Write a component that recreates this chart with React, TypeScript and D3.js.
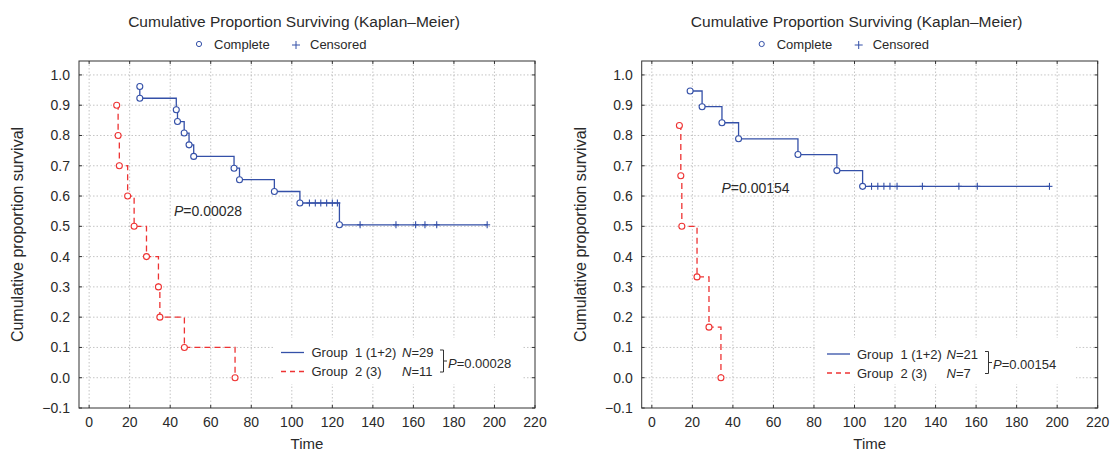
import * as d3 from "d3";

// tick values shared by both panels
const xTicks = [0, 20, 40, 60, 80, 100, 120, 140, 160, 180, 200, 220];
const yTicks = [-0.1, 0, 0.1, 0.2, 0.3, 0.4, 0.5, 0.6, 0.7, 0.8, 0.9, 1.0];

// left panel, group 1 (1+2)
const left1Time = [25, 25, 43, 43.6, 46.9, 49.3, 51.6, 71.5, 74.2, 91.4, 104, 123.5];
const left1Surv = [0.962, 0.923, 0.885, 0.846, 0.808, 0.769, 0.731, 0.692, 0.654, 0.615, 0.577, 0.505];
const left1Cens = [108.7, 111.6, 114.3, 117.2, 120, 122.5, 133.7, 151.4, 161.1, 165.7, 171.5, 196.4];
// left panel, group 2 (3)
const left2Time = [13.6, 14.3, 14.9, 19, 22.2, 28.3, 34.2, 34.9, 47, 72];
const left2Surv = [0.9, 0.8, 0.7, 0.6, 0.5, 0.4, 0.3, 0.2, 0.1, 0.0];

// right panel, group 1 (1+2)
const right1Time = [18.9, 24.8, 34.6, 42.8, 72.1, 91.3, 104];
const right1Surv = [0.947, 0.895, 0.842, 0.789, 0.737, 0.684, 0.632];
const right1Cens = [108.4, 111.5, 114.5, 117.5, 121, 133.5, 151.5, 160.6, 196.2];
// right panel, group 2 (3)
const right2Time = [13.6, 14.3, 14.8, 22.3, 28.2, 34.1];
const right2Surv = [0.833, 0.667, 0.5, 0.333, 0.167, 0.0];

const BLUE = "#3450a8";
const RED = "#ee3333";
const TXT = "#2a2a2a";
const FONT = "'Liberation Sans', Arial, Helvetica, sans-serif";

type Group = { time: number[]; surv: number[]; cens: number[] };

function survAt(g: Group, t: number) {
  let s = g.surv[0];
  g.time.forEach((tt, i) => {
    if (tt <= t) s = g.surv[i];
  });
  return s;
}

function stepPoints(g: Group): [number, number][] {
  const pts: [number, number][] = [[g.time[0], g.surv[0]]];
  for (let i = 1; i < g.time.length; i++) {
    pts.push([g.time[i], g.surv[i - 1]]);
    pts.push([g.time[i], g.surv[i]]);
  }
  const lastC = g.cens.length ? d3.max(g.cens)! : 0;
  if (lastC > g.time[g.time.length - 1]) pts.push([lastC, g.surv[g.surv.length - 1]]);
  return pts;
}

const Panel = ({
  dx,
  g1,
  g2,
  pText,
  pPos,
  n1,
  n2,
  leg,
}: {
  dx: number;
  g1: Group;
  g2: Group;
  pText: string;
  pPos: [number, number];
  n1: string;
  n2: string;
  leg: { x: number; y: number; w: number; h: number; lx: number; tx: number; nx: number; bx: number; y1: number; y2: number };
}) => {
  const left = 79 + dx;
  const right = 535 + dx;
  const top = 61;
  const bottom = 408;
  const x = d3.scaleLinear().domain([-5, 220]).range([left, right]);
  const y = d3.scaleLinear().domain([-0.1, 1.046]).range([bottom, top]);
  const line = d3
    .line<[number, number]>()
    .x((d) => x(d[0]))
    .y((d) => y(d[1]));
  const cx = (left + right) / 2;
  const tcx = 294 + dx;

  const drawGroup = (g: Group, color: string, dashed: boolean) => (
    <g>
      <path
        d={line(stepPoints(g)) || ""}
        fill="none"
        stroke={color}
        strokeWidth={1.3}
        strokeDasharray={dashed ? "6,4" : undefined}
      />
      {g.cens.map((t, i) => (
        <g key={"c" + i} stroke={color} strokeWidth={1.1}>
          <line x1={x(t)} x2={x(t)} y1={y(survAt(g, t)) - 3.5} y2={y(survAt(g, t)) + 3.5} />
          <line x1={x(t) - 3} x2={x(t) + 3} y1={y(survAt(g, t))} y2={y(survAt(g, t))} />
        </g>
      ))}
      {g.time.map((t, i) => (
        <circle key={"p" + i} cx={x(t)} cy={y(g.surv[i])} r={3} fill="white" stroke={color} strokeWidth={1.1} />
      ))}
    </g>
  );

  return (
    <g fontFamily={FONT} fill={TXT}>
      {/* titles */}
      <text x={tcx} y={27} textAnchor="middle" fontSize={15.5}>
        Cumulative Proportion Surviving (Kaplan–Meier)
      </text>
      <circle cx={199 + dx} cy={44} r={2.6} fill="none" stroke={BLUE} strokeWidth={1} />
      <text x={214 + dx} y={48.5} fontSize={13}>
        Complete
      </text>
      <g stroke={BLUE} strokeWidth={1}>
        <line x1={292 + dx} x2={300 + dx} y1={45} y2={45} />
        <line x1={296 + dx} x2={296 + dx} y1={41} y2={49} />
      </g>
      <text x={310 + dx} y={48.5} fontSize={13}>
        Censored
      </text>

      {/* grid */}
      <g stroke="#b5b5b5" strokeWidth={0.8} strokeDasharray="1.5,2">
        {xTicks.slice(0, -1).map((t) => (
          <line key={"gx" + t} x1={x(t)} x2={x(t)} y1={top} y2={bottom} />
        ))}
        {yTicks.slice(1).map((t) => (
          <line key={"gy" + t} x1={left} x2={right} y1={y(t)} y2={y(t)} />
        ))}
      </g>

      {/* frame + inward ticks */}
      <rect x={left} y={top} width={right - left} height={bottom - top} fill="none" stroke="#333" strokeWidth={1} />
      <g stroke="#333" strokeWidth={1}>
        {xTicks.map((t) => (
          <g key={"tx" + t}>
            <line x1={x(t)} x2={x(t)} y1={bottom} y2={bottom - 3} />
            <line x1={x(t)} x2={x(t)} y1={top} y2={top + 3} />
          </g>
        ))}
        {yTicks.map((t) => (
          <g key={"ty" + t}>
            <line x1={left} x2={left + 3} y1={y(t)} y2={y(t)} />
            <line x1={right} x2={right - 3} y1={y(t)} y2={y(t)} />
          </g>
        ))}
      </g>
      {xTicks.map((t) => (
        <text key={"lx" + t} x={x(t)} y={427} textAnchor="middle" fontSize={14}>
          {t}
        </text>
      ))}
      {yTicks.map((t) => (
        <text key={"ly" + t} x={left - 9} y={y(t) + 5} textAnchor="end" fontSize={14}>
          {d3.format(".1f")(t).replace("-", "–")}
        </text>
      ))}
      <text x={cx} y={449} textAnchor="middle" fontSize={15}>
        Time
      </text>
      <text transform={`translate(${23 + dx},${(top + bottom) / 2}) rotate(-90)`} textAnchor="middle" fontSize={16}>
        Cumulative proportion survival
      </text>

      {/* curves */}
      {drawGroup(g2, RED, true)}
      {drawGroup(g1, BLUE, false)}

      <text x={pPos[0]} y={pPos[1]} fontSize={14}>
        <tspan fontStyle="italic">P</tspan>=0.{pText}
      </text>

      {/* legend box */}
      <rect x={leg.x} y={leg.y} width={leg.w} height={leg.h} fill="white" />
      <line x1={leg.lx} x2={leg.lx + 23} y1={leg.y1 - 4.5} y2={leg.y1 - 4.5} stroke={BLUE} strokeWidth={1.3} />
      <line x1={leg.lx} x2={leg.lx + 23} y1={leg.y2 - 4.5} y2={leg.y2 - 4.5} stroke={RED} strokeWidth={1.3} strokeDasharray="5,4" />
      <text x={leg.tx} y={leg.y1} fontSize={13}>
        Group{"\u00a0\u00a0"}1 (1+2)
      </text>
      <text x={leg.tx} y={leg.y2} fontSize={13}>
        Group{"\u00a0\u00a0"}2 (3)
      </text>
      <text x={leg.nx} y={leg.y1} fontSize={13}>
        <tspan fontStyle="italic">N</tspan>={n1}
      </text>
      <text x={leg.nx} y={leg.y2} fontSize={13}>
        <tspan fontStyle="italic">N</tspan>={n2}
      </text>
      <path
        d={`M${leg.bx},${leg.y1 - 7} H${leg.bx + 3.5} V${leg.y2 - 4} H${leg.bx} M${leg.bx + 3.5},${(leg.y1 + leg.y2) / 2 - 5.5} H${leg.bx + 7}`}
        fill="none"
        stroke="#333"
        strokeWidth={1}
      />
      <text x={leg.bx + 8} y={(leg.y1 + leg.y2) / 2 + 1} fontSize={13}>
        <tspan fontStyle="italic">P</tspan>=0.{pText}
      </text>
    </g>
  );
};

export default function App() {
  return (
    <svg width={1111} height={452} style={{ position: "absolute", left: 0, top: 0, background: "white" }}>
      <Panel
        dx={0}
        g1={{ time: left1Time, surv: left1Surv, cens: left1Cens }}
        g2={{ time: left2Time, surv: left2Surv, cens: [] }}
        pText="00028"
        pPos={[174, 216]}
        n1="29"
        n2="11"
        leg={{ x: 273, y: 338, w: 250, h: 46, lx: 281, tx: 311.5, nx: 402, bx: 440, y1: 357, y2: 376 }}
      />
      <Panel
        dx={562.7}
        g1={{ time: right1Time, surv: right1Surv, cens: right1Cens }}
        g2={{ time: right2Time, surv: right2Surv, cens: [] }}
        pText="00154"
        pPos={[721.5, 193]}
        n1="21"
        n2="7"
        leg={{ x: 816, y: 338, w: 260, h: 46, lx: 827, tx: 857, nx: 946.5, bx: 985, y1: 358.5, y2: 377.5 }}
      />
    </svg>
  );
}
